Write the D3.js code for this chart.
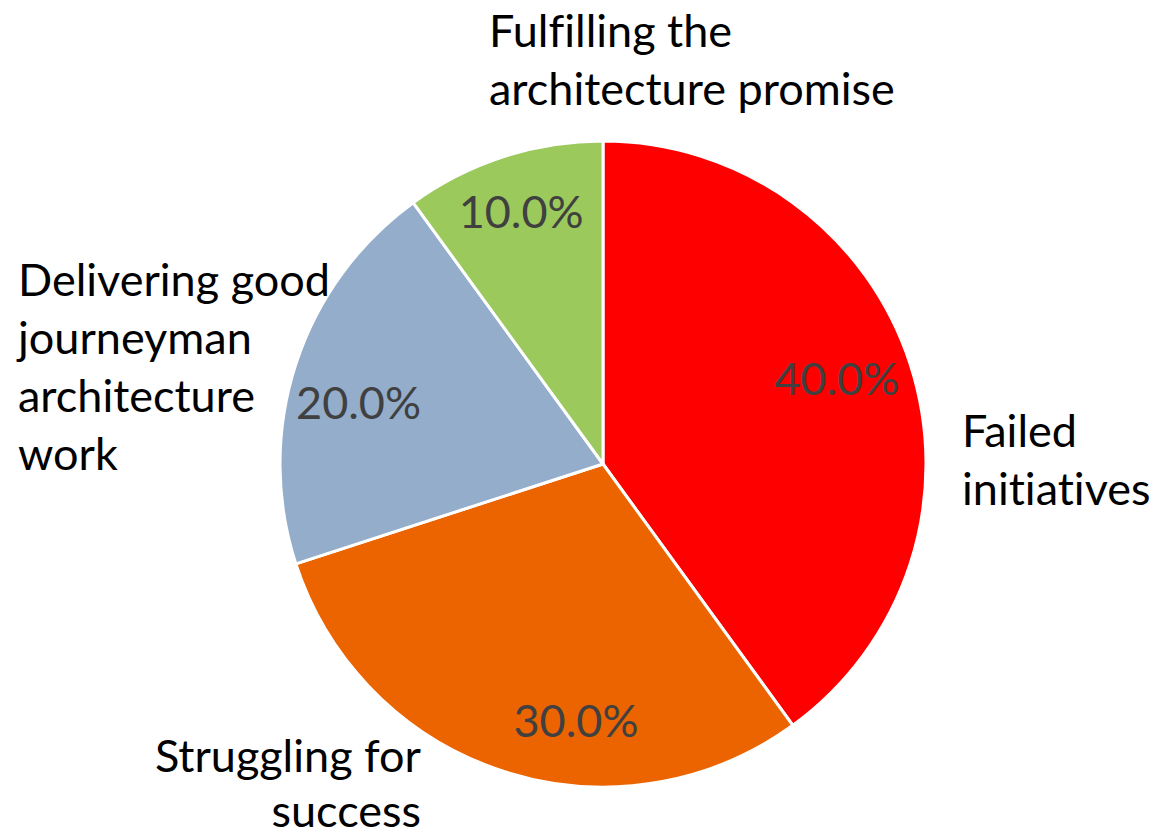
<!DOCTYPE html>
<html>
<head>
<meta charset="utf-8">
<script src="https://cdn.jsdelivr.net/npm/d3@7"></script>
<style>
  body { margin: 0; background: #fff; }
  svg text { font-family: Lato, "Open Sans", sans-serif; font-variant-ligatures: none; }
</style>
</head>
<body>
<div id="graf"></div>
<script>
// Datos
categorias = ['Failed initiatives', 'Struggling for success', 'Delivering good journeyman architecture work', 'Fulfilling the architecture promise']
valores = [40, 30, 20, 10]
colores = ['#ff0000', '#eb6400', '#93adca', '#9bc95c']
etiquetas = [['Failed', 'initiatives'], ['Struggling for', 'success'], ['Delivering good', 'journeyman', 'architecture', 'work'], ['Fulfilling the', 'architecture promise']]

// Configuración
ancho = 1153
alto = 836
cx = 603
cy = 464
radio = 323
tamFuente = 45
interlinea = 58

// posiciones de las etiquetas externas (ancla, primera línea base)
posEtiq = [
  { x: 962, y: 447, anchor: 'start' },
  { x: 421, y: 772, anchor: 'end' },
  { x: 18, y: 296, anchor: 'start' },
  { x: 489, y: 47, anchor: 'start' }
]
// ajuste de ángulo (grados) y radio para los porcentajes
ajustePct = [
  { da: -2, k: 0.77 },
  { da: -12, k: 0.8 },
  { da: -4, k: 0.78 },
  { da: 0, k: 0.82 }
]

datos = categorias.map((c, i) => ({ categoria: c, valor: valores[i], color: colores[i], lineas: etiquetas[i] }))

svg = d3.select('#graf').append('svg')
  .attr('width', ancho)
  .attr('height', alto)

g = svg.append('g')
  .attr('transform', `translate(${cx}, ${cy})`)

pie = d3.pie()
  .sort(null)
  .value(d => d.valor)

arco = d3.arc()
  .innerRadius(0)
  .outerRadius(radio)

arcos = pie(datos)

g.selectAll('path')
  .data(arcos)
  .enter()
  .append('path')
    .attr('d', arco)
    .attr('fill', d => d.data.color)
    .attr('stroke', '#fff')
    .attr('stroke-width', 3)
    .attr('stroke-linejoin', 'round')

total = d3.sum(valores)

g.selectAll('text.pct')
  .data(arcos)
  .enter()
  .append('text')
    .attr('class', 'pct')
    .attr('transform', (d, i) => {
      a = (d.startAngle + d.endAngle) / 2 + ajustePct[i].da * Math.PI / 180
      r = radio * ajustePct[i].k
      return `translate(${Math.sin(a) * r}, ${-Math.cos(a) * r})`
    })
    .attr('text-anchor', 'middle')
    .attr('dy', '0.35em')
    .attr('fill', '#404040')
    .style('font-size', tamFuente + 'px')
    .text(d => (d.data.valor / total * 100).toFixed(1) + '%')

etiq = svg.selectAll('text.cat')
  .data(datos)
  .enter()
  .append('text')
    .attr('class', 'cat')
    .attr('x', (d, i) => posEtiq[i].x)
    .attr('y', (d, i) => posEtiq[i].y)
    .attr('text-anchor', (d, i) => posEtiq[i].anchor)
    .attr('fill', '#000')
    .style('font-size', tamFuente + 'px')

etiq.each(function(d, i) {
  d3.select(this).selectAll('tspan')
    .data(d.lineas)
    .enter()
    .append('tspan')
      .attr('x', posEtiq[i].x)
      .attr('dy', (l, j) => j === 0 ? 0 : (i === 1 ? 55 : interlinea))
      .text(l => l)
})
</script>
</body>
</html>
